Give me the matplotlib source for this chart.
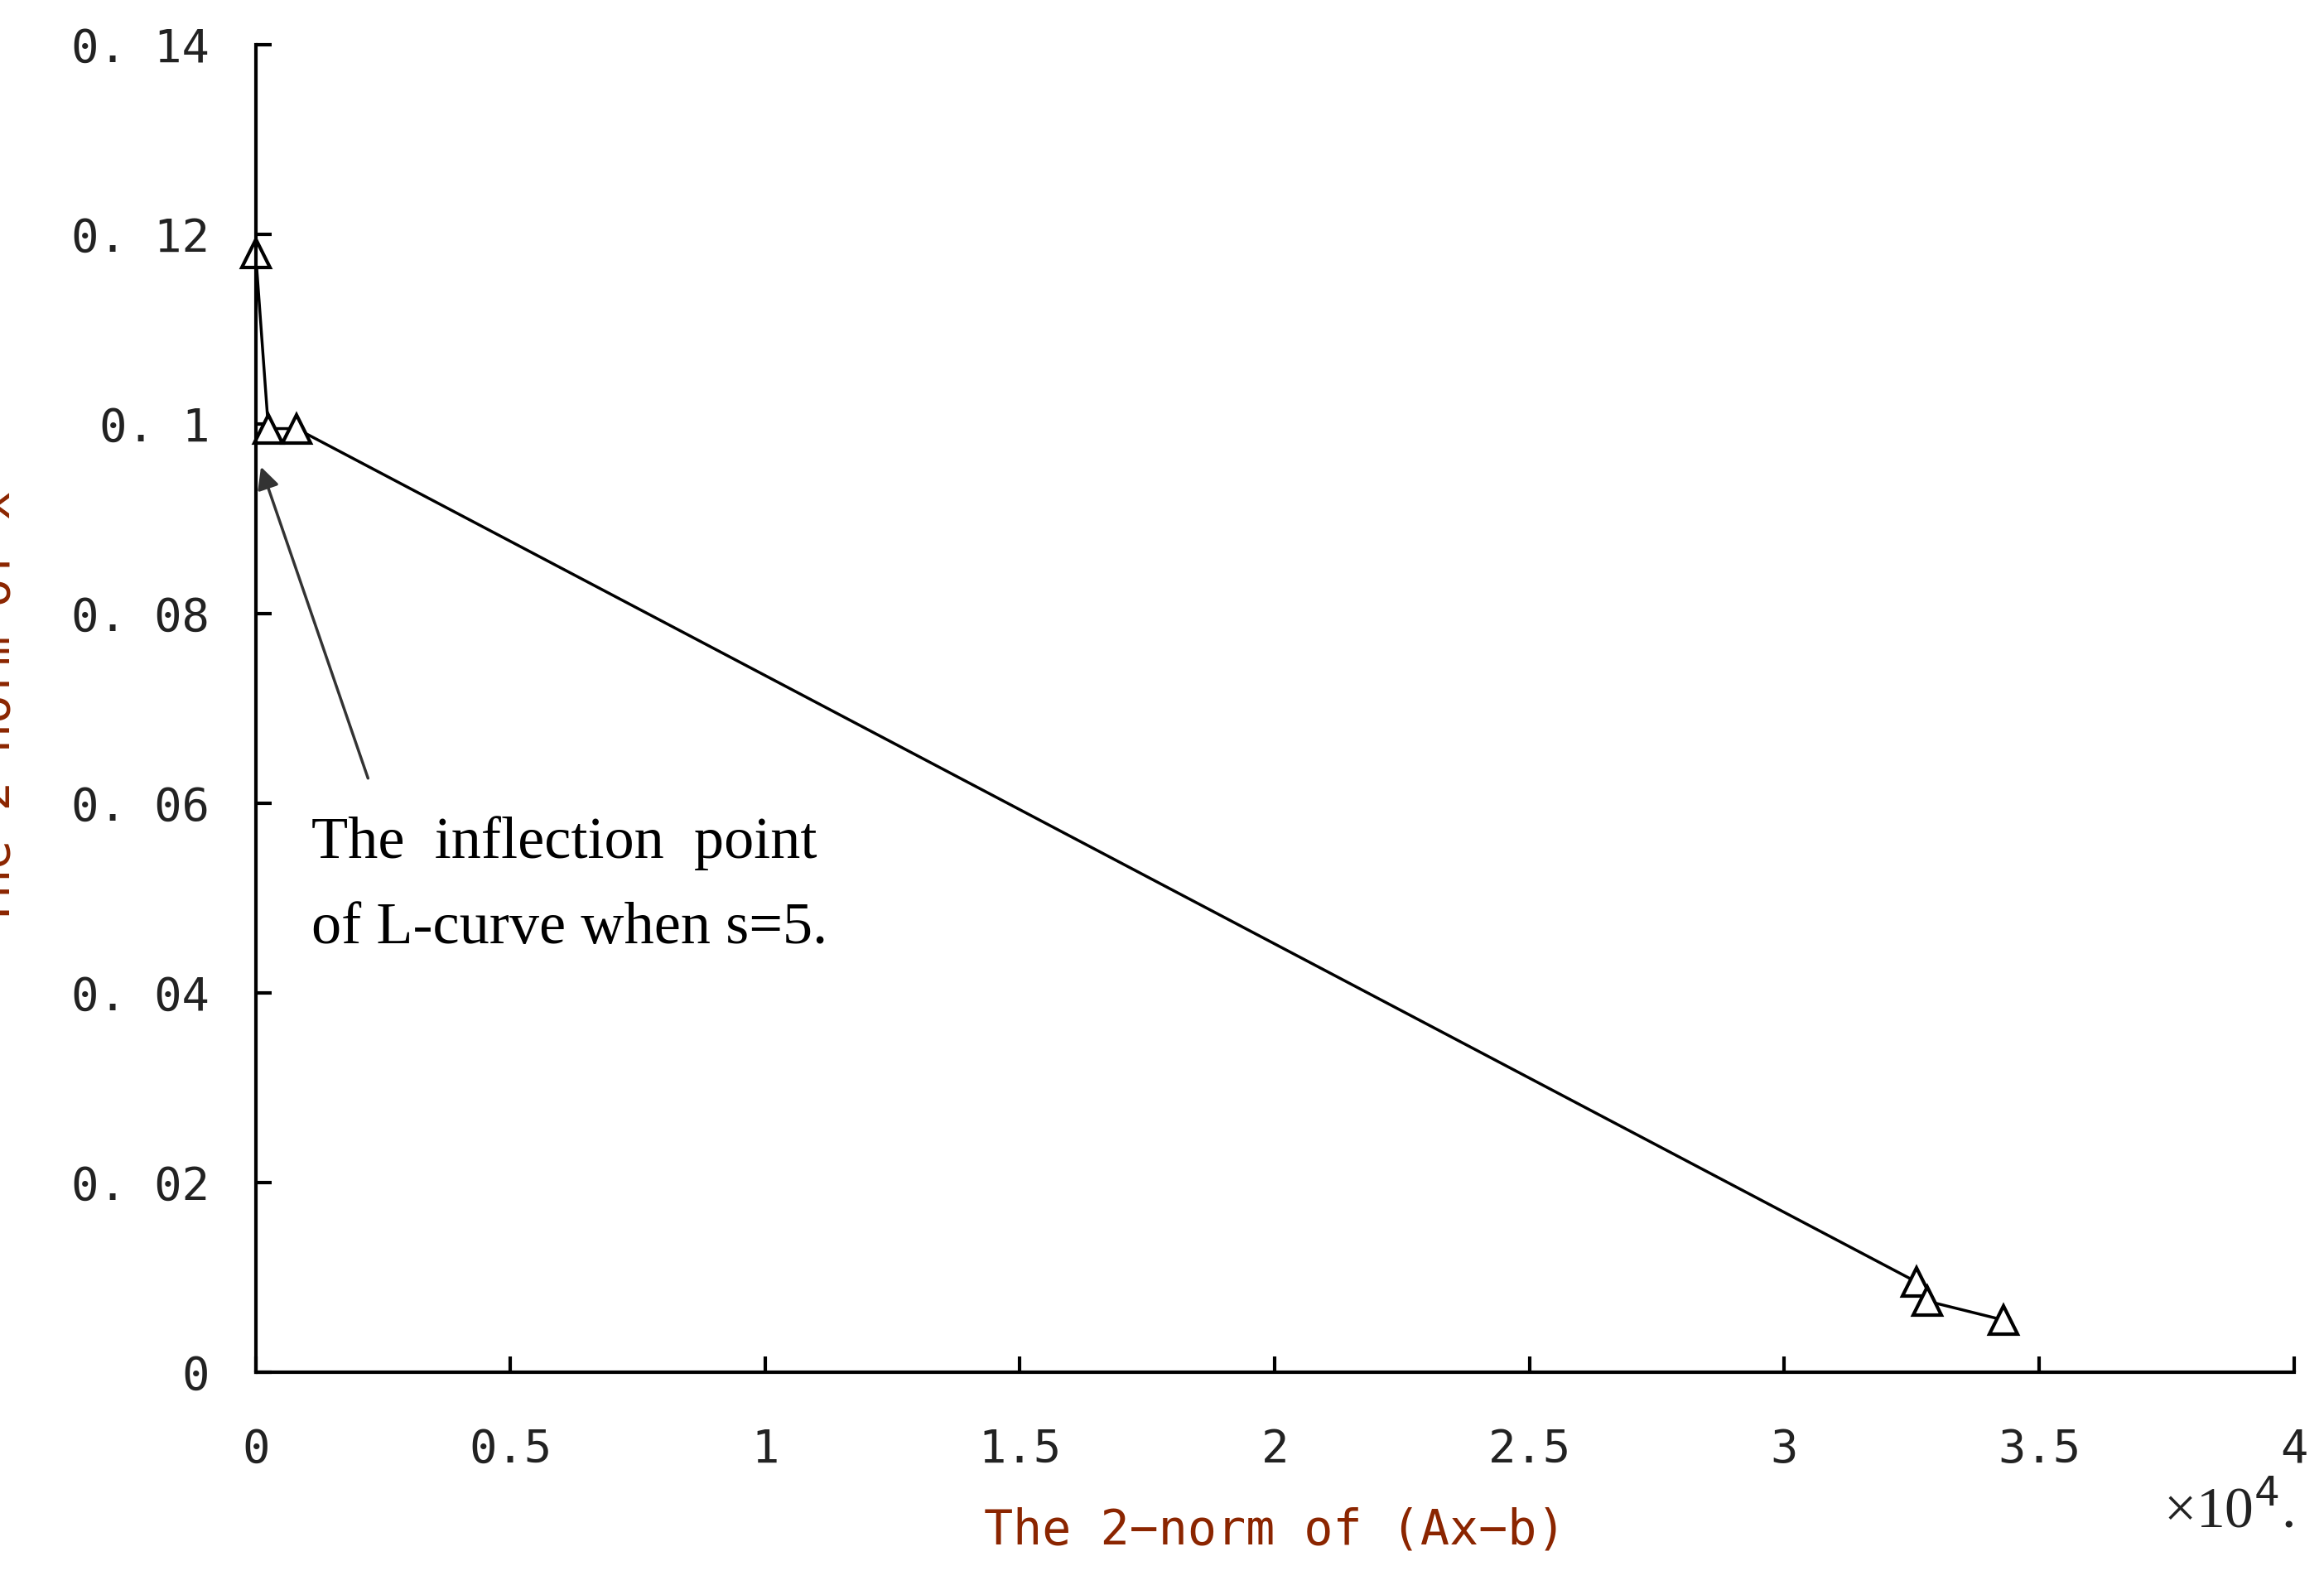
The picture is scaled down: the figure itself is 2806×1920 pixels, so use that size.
import matplotlib
matplotlib.use("Agg")
import matplotlib.pyplot as plt

x_vals = [0.0, 0.025, 0.08, 3.26, 3.28, 3.43]      # in units of 1e4
y_vals = [0.118, 0.0995, 0.0995, 0.0095, 0.0075, 0.0055]
xticks = [0, 0.5, 1, 1.5, 2, 2.5, 3, 3.5, 4]
xtick_labels = ["0", "0.5", "1", "1.5", "2", "2.5", "3", "3.5", "4"]
yticks = [0, 0.02, 0.04, 0.06, 0.08, 0.1, 0.12, 0.14]
ytick_labels = ["0", "0. 02", "0. 04", "0. 06", "0. 08", "0. 1", "0. 12", "0. 14"]

fig = plt.figure(figsize=(28.06, 19.2), dpi=100)
ax = fig.add_axes([0.110, 0.137, 0.877, 0.835])
ax.plot(x_vals, y_vals, color="black", lw=2.5, marker="^", markersize=24,
        markerfacecolor="white", markeredgecolor="black", markeredgewidth=3, clip_on=False)
ax.set_xlim(0, 4)
ax.set_ylim(0, 0.14)
for s in ["top", "right"]:
    ax.spines[s].set_visible(False)
for s in ["left", "bottom"]:
    ax.spines[s].set_linewidth(3)
mono = "DejaVu Sans Mono"
ax.set_xticks(xticks)
ax.set_xticklabels(xtick_labels, family=mono, fontsize=40, color="#222222")
ax.set_yticks(yticks)
ax.set_yticklabels(ytick_labels, family=mono, fontsize=40, color="#222222")
ax.tick_params(axis="x", direction="in", length=14, width=3, pad=48)
ax.tick_params(axis="y", direction="in", length=14, width=3, pad=40)
ax.set_xlabel("The 2\u2212norm of (Ax\u2212b)", family=mono, fontsize=42, color="#8B2500", labelpad=30)
ax.set_ylabel("The 2\u2212norm of x", family=mono, fontsize=42, color="#8B2500", labelpad=45)
ax.text(1.0, -0.105, "\u00d710$^{4}$.", transform=ax.transAxes, fontsize=50,
        family="Liberation Serif", ha="right", va="center", color="#222222")
ax.annotate("", xy=(0.009, 0.0957), xytext=(0.222, 0.0624),
            arrowprops=dict(arrowstyle="-|>", color="#333333", lw=2.5, mutation_scale=40))
ax.text(0.11, 0.0558, "The  inflection  point", family="Liberation Serif", fontsize=52,
        va="center", ha="left")
ax.text(0.11, 0.0468, "of L-curve when s=5.", family="Liberation Serif", fontsize=52,
        va="center", ha="left")
fig.savefig("out.png", dpi=100, facecolor="white")
